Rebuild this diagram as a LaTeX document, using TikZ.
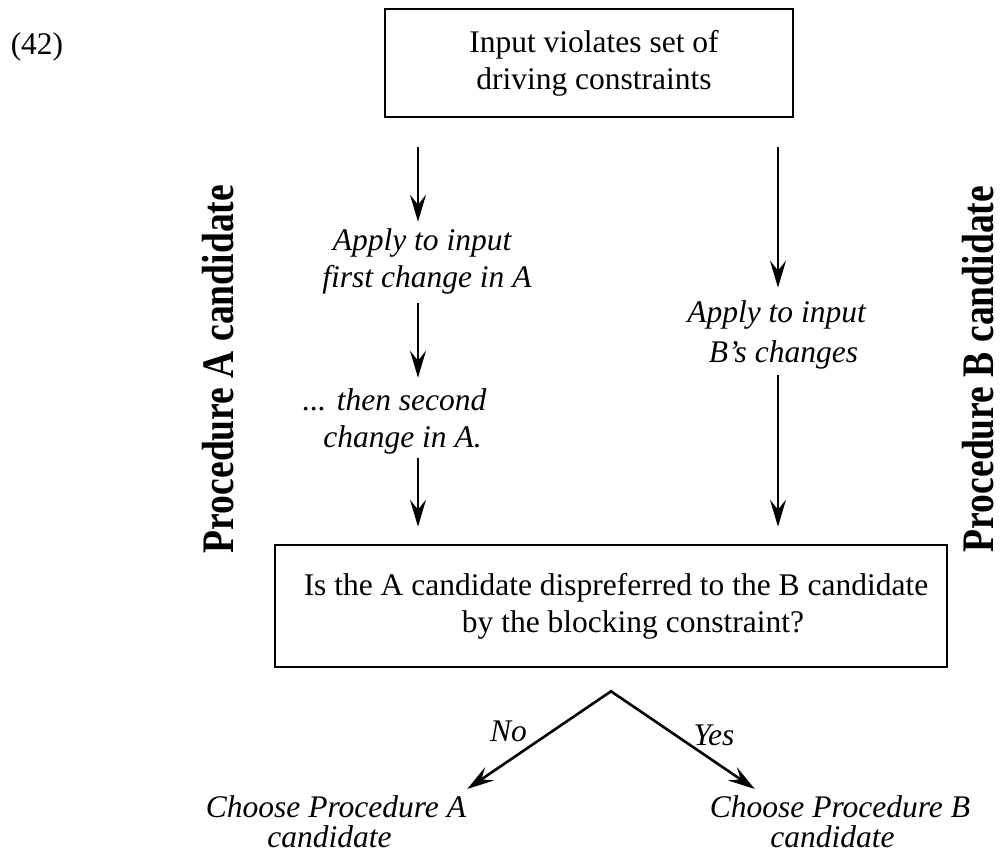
\documentclass[tikz,border=0pt]{standalone}
\usepackage{fontspec}
\setmainfont{Liberation Serif}
\usetikzlibrary{arrows.meta}
\begin{document}
\begin{tikzpicture}[x=1pt,y=-1pt,
  every node/.style={inner sep=0pt, font=\fontsize{31.5}{37}\selectfont},
  box/.style={draw, line width=2.6pt, align=center},
  lbl/.style={align=center, font=\fontsize{31.5}{37}\selectfont\itshape},
  choice/.style={align=center, font=\fontsize{31.5}{30}\selectfont\itshape},
  arr/.style={line width=2.6pt, -{Stealth[length=27pt,width=16pt,inset=10pt]}},
  arrboth/.style={line width=2.6pt, {Stealth[length=27pt,width=16pt,inset=10pt]}-{Stealth[length=27pt,width=16pt,inset=10pt]}},
  side/.style={rotate=90, anchor=base, font=\fontsize{37.6}{40}\selectfont\bfseries}]
\useasboundingbox (0,0) rectangle (1004,867);

\node (n42) at (37,47) {(42)};
\node[box, minimum width=408pt, minimum height=108pt] (top) at (589,63)
  {\hspace*{10pt}Input violates set of\\\hspace*{10pt}driving constraints};

\node[lbl] (a1) at (427,261.2) {Apply to input\hspace*{10pt}\\first change in A};
\node[lbl] (a2) at (394.5,421.2) {... then second\\\hspace*{16pt}change in A.};
\node[lbl] (b1) at (776.5,334.6) {Apply to input\\[3pt]\hspace*{14pt}B’s changes};

\node[box, minimum width=672pt, minimum height=122pt] (q) at (611,606)
  {\hspace*{10pt}Is the A candidate dispreferred to the B candidate\\\hspace*{44pt}by the blocking constraint?};

\node[choice] (cA) at (336,821.75) {Choose Procedure A\\candidate\hspace*{13pt}};
\node[choice] (cB) at (840,821.75) {Choose Procedure B\\candidate\hspace*{15pt}};

\node[lbl] (no) at (508.5,731.6) {No};
\node[lbl] (yes) at (714,735) {Yes};

\node[side] (pa) at (233,369) {\scalebox{1}[1.2]{Procedure A candidate}};
\node[side] (pb) at (993,369) {\scalebox{1}[1.2]{Procedure B candidate}};

\coordinate (ax) at (418,0);
\coordinate (bx) at (778,0);
\coordinate (apex) at ([yshift=-23pt]q.south);

\draw[arr, shorten <=29pt, shorten >=6.5pt] (top.south -| ax) -- (a1.north -| ax);
\draw[arr, shorten <=9pt, shorten >=10.5pt] (a1.south -| ax) -- (a2.north -| ax);
\draw[arr, shorten <=4pt, shorten >=17pt] (a2.south -| ax) -- (q.north -| ax);
\draw[arr, shorten <=29pt, shorten >=12.5pt] (top.south -| bx) -- (b1.north -| bx);
\draw[arr, shorten <=6pt, shorten >=17pt] (b1.south -| bx) -- (q.north -| bx);
\draw[arrboth] ([xshift=1pt,yshift=6.5pt]cA.north east) -- (apex) -- ([xshift=45pt,yshift=6.5pt]cB.north west);
\end{tikzpicture}
\end{document}
